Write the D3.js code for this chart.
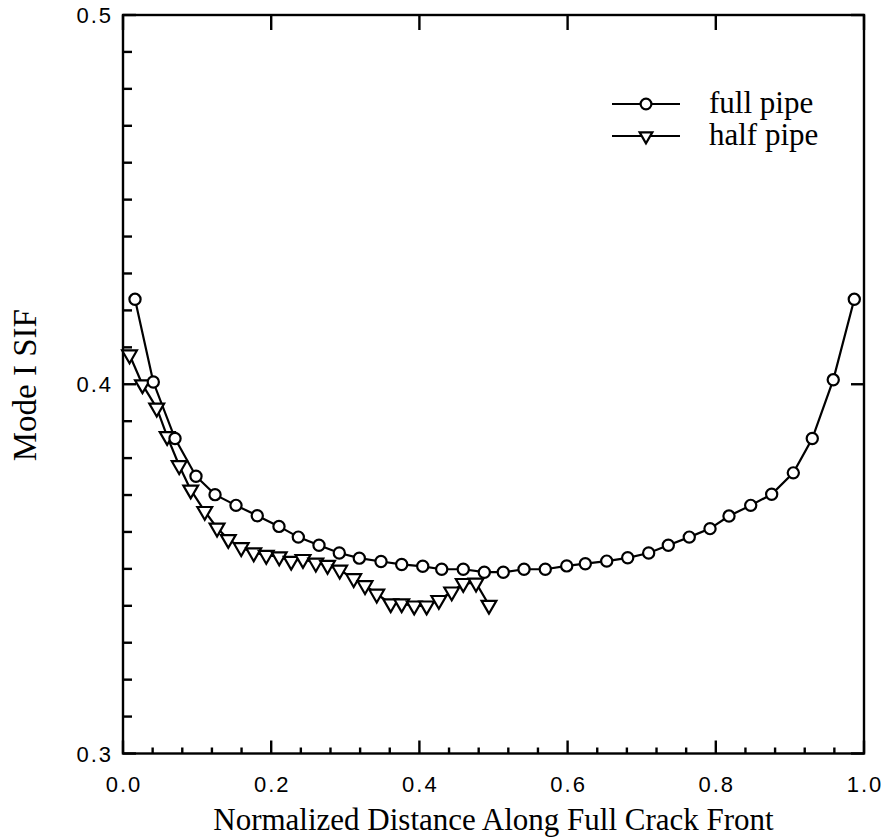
<!DOCTYPE html>
<html>
<head>
<meta charset="utf-8">
<script src="https://cdn.jsdelivr.net/npm/d3@7"></script>
<style>
body { margin: 0; background: #fff; }
svg { display: block; }
.tick-label { font-family: "Liberation Sans", Arial, sans-serif; font-size: 22px; letter-spacing: 2px; }
.title { font-family: "Liberation Serif", "Times New Roman", serif; font-size: 31px; }
</style>
</head>
<body>
<svg id="chart" width="883" height="838"></svg>
<script>
// full pipe (circles)
var fullX = [0.0162, 0.0409, 0.0702, 0.0985, 0.1242, 0.1525, 0.1812, 0.2105, 0.2366, 0.2645,
             0.2919, 0.3189, 0.3482, 0.3761, 0.4045, 0.4301, 0.4592, 0.4876, 0.5132, 0.5412,
             0.5699, 0.5988, 0.6239, 0.6528, 0.6811, 0.7094, 0.7359, 0.7642, 0.7922, 0.8178,
             0.8471, 0.8754, 0.9046, 0.9302, 0.9585, 0.9869];
var fullY = [0.4230, 0.4006, 0.3853, 0.3751, 0.3701, 0.3672, 0.3644, 0.3615, 0.3586, 0.3564,
             0.3543, 0.3529, 0.3520, 0.3512, 0.3507, 0.3499, 0.3499, 0.3491, 0.3491, 0.3499,
             0.3499, 0.3508, 0.3514, 0.3521, 0.3530, 0.3543, 0.3564, 0.3586, 0.3609, 0.3643,
             0.3672, 0.3702, 0.3760, 0.3853, 0.4012, 0.4230];

// half pipe (triangles)
var halfX = [0.0088, 0.0263, 0.0455, 0.0596, 0.0758, 0.0914, 0.1103, 0.1269, 0.1421, 0.1595,
             0.1764, 0.1933, 0.2108, 0.2270, 0.2429, 0.2602, 0.2760, 0.2924, 0.3113, 0.3266,
             0.3424, 0.3613, 0.3761, 0.3930, 0.4098, 0.4262, 0.4436, 0.4592, 0.4764, 0.4939];
var halfY = [0.4080, 0.3999, 0.3936, 0.3859, 0.3780, 0.3714, 0.3656, 0.3611, 0.3580, 0.3558,
             0.3544, 0.3537, 0.3533, 0.3521, 0.3526, 0.3516, 0.3510, 0.3497, 0.3474, 0.3455,
             0.3432, 0.3406, 0.3406, 0.3400, 0.3400, 0.3415, 0.3438, 0.3461, 0.3462, 0.3402];

var xTicks = [0.0, 0.2, 0.4, 0.6, 0.8, 1.0];
var yTicks = [0.3, 0.4, 0.5];
var seriesNames = ["full pipe", "half pipe"];

var svg = d3.select("#chart");
var padL = 123, padR = 864, padT = 15, padB = 753.5;

var x = d3.scaleLinear().domain([0, 1]).range([padL, padR]);
var y = d3.scaleLinear().domain([0.3, 0.5]).range([padB, padT]);

// minor ticks
var xMinor = d3.range(0, 1.0001, 0.04).filter(function(d) { return Math.abs(d * 5 - Math.round(d * 5)) > 1e-6; });
var yMinor = d3.range(0.3, 0.5001, 0.01).filter(function(d) { return Math.abs(d * 10 - Math.round(d * 10)) > 1e-6; });

var axes = svg.append("g").attr("stroke", "#000").attr("stroke-width", 2.4);

axes.selectAll(".xmin").data(xMinor).enter().append("line")
    .attr("x1", function(d) { return x(d); }).attr("x2", function(d) { return x(d); })
    .attr("y1", padB).attr("y2", padB - 6);
axes.selectAll(".xmaj").data(xTicks).enter().append("line")
    .attr("x1", function(d) { return x(d); }).attr("x2", function(d) { return x(d); })
    .attr("y1", padB).attr("y2", padB - 13);
axes.selectAll(".xtop").data(xTicks).enter().append("line")
    .attr("x1", function(d) { return x(d); }).attr("x2", function(d) { return x(d); })
    .attr("y1", padT).attr("y2", padT + 15);
axes.selectAll(".ymin").data(yMinor).enter().append("line")
    .attr("x1", padL).attr("x2", padL + 9)
    .attr("y1", function(d) { return y(d); }).attr("y2", function(d) { return y(d); });
axes.selectAll(".ymaj").data(yTicks).enter().append("line")
    .attr("x1", padL).attr("x2", padL + 13)
    .attr("y1", function(d) { return y(d); }).attr("y2", function(d) { return y(d); });
axes.selectAll(".yright").data(yTicks).enter().append("line")
    .attr("x1", padR).attr("x2", padR - 13)
    .attr("y1", function(d) { return y(d); }).attr("y2", function(d) { return y(d); });

axes.append("rect")
    .attr("x", padL).attr("y", padT)
    .attr("width", padR - padL).attr("height", padB - padT)
    .attr("fill", "none");

// tick labels
svg.selectAll(".xl").data(xTicks).enter().append("text")
    .attr("class", "tick-label")
    .attr("x", function(d) { return x(d) + 1; })
    .attr("y", padB + 38)
    .attr("text-anchor", "middle")
    .text(function(d) { return d.toFixed(1); });
svg.selectAll(".yl").data(yTicks).enter().append("text")
    .attr("class", "tick-label")
    .attr("x", padL - 10)
    .attr("y", function(d) { return y(d) + 8; })
    .attr("text-anchor", "end")
    .text(function(d) { return d.toFixed(1); });

// titles
svg.append("text").attr("class", "title")
    .attr("x", (padL + padR) / 2).attr("y", 830)
    .attr("text-anchor", "middle")
    .text("Normalized Distance Along Full Crack Front");
svg.append("text").attr("class", "title")
    .style("font-size", "33px")
    .attr("transform", "translate(36," + (y(0.4) + 1) + ") rotate(-90)")
    .attr("text-anchor", "middle")
    .text("Mode I SIF");

var full = d3.zip(fullX, fullY);
var half = d3.zip(halfX, halfY);

var line = d3.line()
    .x(function(d) { return x(d[0]); })
    .y(function(d) { return y(d[1]); });

var tri = d3.symbol().type(d3.symbolTriangle).size(95);

var plot = svg.append("g");

plot.append("path").datum(half)
    .attr("d", line).attr("fill", "none").attr("stroke", "#000").attr("stroke-width", 2.2);
plot.append("path").datum(full)
    .attr("d", line).attr("fill", "none").attr("stroke", "#000").attr("stroke-width", 2.2);

plot.selectAll(".tri").data(half).enter().append("path")
    .attr("d", tri)
    .attr("transform", function(d) { return "translate(" + x(d[0]) + "," + y(d[1]) + ") rotate(180)"; })
    .attr("fill", "#fff").attr("stroke", "#000").attr("stroke-width", 2.2);

plot.selectAll(".circ").data(full).enter().append("circle")
    .attr("cx", function(d) { return x(d[0]); })
    .attr("cy", function(d) { return y(d[1]); })
    .attr("r", 5.6)
    .attr("fill", "#fff").attr("stroke", "#000").attr("stroke-width", 2.2);

// legend
var legend = svg.append("g");
var legY = [104, 136];
legend.selectAll(".ll").data(seriesNames).enter().append("line")
    .attr("x1", 612).attr("x2", 680)
    .attr("y1", function(d, i) { return legY[i]; }).attr("y2", function(d, i) { return legY[i]; })
    .attr("stroke", "#000").attr("stroke-width", 2.2);
legend.append("circle")
    .attr("cx", 646).attr("cy", legY[0]).attr("r", 5.4)
    .attr("fill", "#fff").attr("stroke", "#000").attr("stroke-width", 2.2);
legend.append("path")
    .attr("d", d3.symbol().type(d3.symbolTriangle).size(70))
    .attr("transform", "translate(646," + legY[1] + ") rotate(180)")
    .attr("fill", "#fff").attr("stroke", "#000").attr("stroke-width", 2.2);
legend.selectAll(".lt").data(seriesNames).enter().append("text")
    .attr("class", "title")
    .attr("x", 709)
    .attr("y", function(d, i) { return legY[i] + 9; })
    .text(function(d) { return d; });
</script>
</body>
</html>
